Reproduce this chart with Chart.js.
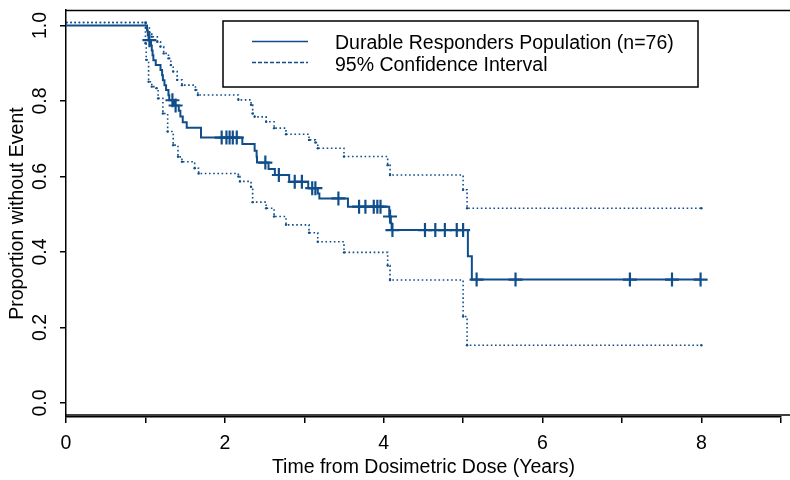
<!DOCTYPE html>
<html>
<head>
<meta charset="utf-8">
<script src="https://cdn.jsdelivr.net/npm/chart.js@4"></script>
<style>
  body { margin: 0; background: #fff; }
  #wrap { width: 790px; height: 480px; }
</style>
</head>
<body>
<div id="wrap"><canvas id="km" width="790" height="480"></canvas></div>
<script>
/* DATA - Kaplan-Meier estimate */
const kmTimes = [0, 1.02, 1.03, 1.04, 1.07, 1.08, 1.09, 1.10, 1.13, 1.19, 1.21, 1.22, 1.24, 1.26, 1.29, 1.30,
  1.36, 1.42, 1.44, 1.47, 1.52, 1.70, 2.22, 2.375, 2.40, 2.405, 2.55, 2.63, 2.81, 3.05, 3.17, 3.19,
  3.55, 4.07, 4.09, 4.10, 5.06, 5.11, 8.0]
const kmSurv = [1.0, 0.987, 0.974, 0.961, 0.947, 0.934, 0.921, 0.908, 0.895, 0.882, 0.868, 0.855, 0.842, 0.829, 0.815, 0.802,
  0.788, 0.774, 0.759, 0.744, 0.729, 0.703, 0.686, 0.668, 0.652, 0.637, 0.620, 0.604, 0.586, 0.569, 0.555, 0.542,
  0.520, 0.494, 0.476, 0.458, 0.389, 0.327, 0.327]

/* 95% confidence limits */
const upperTimes = [0, 1.00, 1.01, 1.05, 1.08, 1.15, 1.19, 1.23, 1.29, 1.32, 1.35, 1.40, 1.46, 1.63, 1.66, 2.17,
  2.33, 2.35, 2.375, 2.52, 2.62, 2.77, 3.06, 3.14, 3.17, 3.50, 4.05, 4.08, 5.00, 5.05, 8.0]
const upperVals = [1.008, 1.008, 0.993, 0.982, 0.970, 0.957, 0.944, 0.926, 0.913, 0.895, 0.878, 0.856, 0.842, 0.829, 0.816, 0.803,
  0.790, 0.767, 0.758, 0.745, 0.728, 0.712, 0.697, 0.690, 0.675, 0.653, 0.630, 0.604, 0.565, 0.516, 0.516]
const lowerTimes = [0, 1.00, 1.01, 1.04, 1.08, 1.14, 1.16, 1.22, 1.28, 1.35, 1.41, 1.46, 1.62, 1.67, 2.17, 2.19,
  2.33, 2.35, 2.52, 2.62, 2.77, 3.06, 3.17, 3.50, 4.05, 4.08, 5.00, 5.05, 8.0]
const lowerVals = [1.008, 0.953, 0.909, 0.851, 0.838, 0.834, 0.807, 0.767, 0.719, 0.683, 0.652, 0.639, 0.622, 0.608, 0.600, 0.587,
  0.573, 0.532, 0.516, 0.494, 0.472, 0.451, 0.427, 0.399, 0.364, 0.326, 0.229, 0.153, 0.153]

/* censored observations */
const censorTimes = [1.05, 1.34, 1.38, 1.96, 2.02, 2.06, 2.10, 2.15, 2.51, 2.68, 2.88, 2.97, 3.10, 3.14, 3.43,
  3.69, 3.77, 3.875, 3.92, 3.96, 4.08, 4.11, 4.52, 4.65, 4.77, 4.92, 5.00, 5.17, 5.66, 7.10, 7.63, 7.99]
const censorSurv = [0.961, 0.802, 0.788, 0.703, 0.703, 0.703, 0.703, 0.703, 0.637, 0.604, 0.586, 0.586, 0.569, 0.569, 0.542,
  0.520, 0.520, 0.520, 0.520, 0.520, 0.494, 0.458, 0.458, 0.458, 0.458, 0.458, 0.458, 0.327, 0.327, 0.327, 0.327, 0.327]

const xTickValues = [0, 1, 2, 3, 4, 5, 6, 7, 8, 9]
const yTickValues = [0, 0.2, 0.4, 0.6, 0.8, 1.0]
const seriesNames = ['Durable Responders Population (n=76)', '95% Confidence Interval']

const BLUE = '#104E8B'
const FONT = 'Liberation Sans, Arial, sans-serif'
const FS = 19.5

const toXY = (xs, ys) => xs.map((x, i) => ({x: x, y: ys[i]}))

/* frame, rotated y labels and legend (R style) */
const rFrame = {
  id: 'rFrame',
  afterDraw(chart){
    const ctx = chart.ctx
    const area = chart.chartArea
    const ys = chart.scales.y
    ctx.save()
    ctx.strokeStyle = '#000'
    ctx.lineWidth = 1.5
    // box top and bottom
    const boxBottom = ys.getPixelForValue(-0.032)
    ctx.beginPath()
    ctx.moveTo(area.left, area.top + 0.5)
    ctx.lineTo(790, area.top + 0.5)
    ctx.moveTo(area.left, boxBottom)
    ctx.lineTo(790, boxBottom)
    ctx.stroke()

    // y tick labels, rotated
    ctx.fillStyle = '#000'
    ctx.font = FS + 'px ' + FONT
    ctx.textAlign = 'center'
    ctx.textBaseline = 'middle'
    ys.ticks.forEach(t => {
      ctx.save()
      ctx.translate(41, ys.getPixelForValue(t.value))
      ctx.rotate(-Math.PI / 2)
      ctx.fillText(t.value.toFixed(1), 0, 0)
      ctx.restore()
    })

    // legend
    ctx.fillStyle = '#fff'
    ctx.fillRect(223, 21, 475, 66)
    ctx.strokeRect(223, 21, 475, 66)
    ctx.strokeStyle = BLUE
    ctx.lineWidth = 1.5
    ctx.beginPath()
    ctx.moveTo(252, 41.5)
    ctx.lineTo(308, 41.5)
    ctx.stroke()
    ctx.setLineDash([4, 2])
    ctx.beginPath()
    ctx.moveTo(252, 62.5)
    ctx.lineTo(308, 62.5)
    ctx.stroke()
    ctx.setLineDash([])
    ctx.fillStyle = '#000'
    ctx.textAlign = 'left'
    ctx.fillText(seriesNames[0], 335, 44)
    ctx.fillText(seriesNames[1], 335, 66)
    ctx.restore()
  }
}

const ctx = document.getElementById('km').getContext('2d')
const kmChart = new Chart(ctx, {
  type: 'line',
  data: {
    datasets: [
      {
        label: 'censored',
        type: 'scatter',
        data: toXY(censorTimes, censorSurv),
        pointStyle: 'cross',
        pointRadius: 7,
        pointBorderWidth: 2.2,
        borderColor: BLUE,
        backgroundColor: BLUE,
        order: 0
      },
      {
        label: seriesNames[0],
        data: toXY(kmTimes, kmSurv),
        stepped: 'before',
        borderColor: BLUE,
        borderWidth: 2,
        pointRadius: 0,
        order: 1
      },
      {
        label: 'upper',
        data: toXY(upperTimes, upperVals),
        stepped: 'before',
        borderColor: BLUE,
        borderWidth: 1.6,
        borderDash: [1.6, 2.6],
        pointRadius: 1.2,
        pointBorderWidth: 0,
        backgroundColor: BLUE,
        order: 2
      },
      {
        label: 'lower',
        data: toXY(lowerTimes, lowerVals),
        stepped: 'before',
        borderColor: BLUE,
        borderWidth: 1.6,
        borderDash: [1.6, 2.6],
        pointRadius: 1.2,
        pointBorderWidth: 0,
        backgroundColor: BLUE,
        order: 3
      }
    ]
  },
  options: {
    responsive: false,
    animation: false,
    devicePixelRatio: 1,
    layout: { padding: { top: 10, right: 4, left: 0, bottom: 0 } },
    plugins: {
      legend: { display: false },
      tooltip: { enabled: false }
    },
    scales: {
      x: {
        type: 'linear',
        min: 0,
        max: 9,
        afterBuildTicks: s => { s.ticks = xTickValues.map(v => ({value: v})) },
        afterFit: s => { s.height = 63 },
        ticks: {
          autoSkip: false,
          maxRotation: 0,
          padding: 9,
          color: '#000',
          font: { family: FONT, size: FS },
          callback: v => (v % 2 === 0 ? String(v) : '')
        },
        grid: { drawOnChartArea: false, tickLength: 6, color: '#000', lineWidth: 1.5 },
        border: { color: '#000', width: 1.5 },
        title: {
          display: true,
          text: 'Time from Dosimetric Dose (Years)',
          color: '#000',
          font: { family: FONT, size: FS, lineHeight: 1 },
          padding: { top: 0, bottom: 3 }
        }
      },
      y: {
        type: 'linear',
        min: -0.037,
        max: 1.041,
        afterBuildTicks: s => { s.ticks = yTickValues.map(v => ({value: v})) },
        afterFit: s => { s.width = 66 },
        ticks: { display: false },
        grid: { drawOnChartArea: false, tickLength: 6, color: '#000', lineWidth: 1.5 },
        border: { color: '#000', width: 1.5 },
        title: {
          display: true,
          text: 'Proportion without Event',
          color: '#000',
          font: { family: FONT, size: FS, lineHeight: 1 },
          padding: { top: 8, bottom: 0 }
        }
      }
    }
  },
  plugins: [rFrame]
})
</script>
</body>
</html>
